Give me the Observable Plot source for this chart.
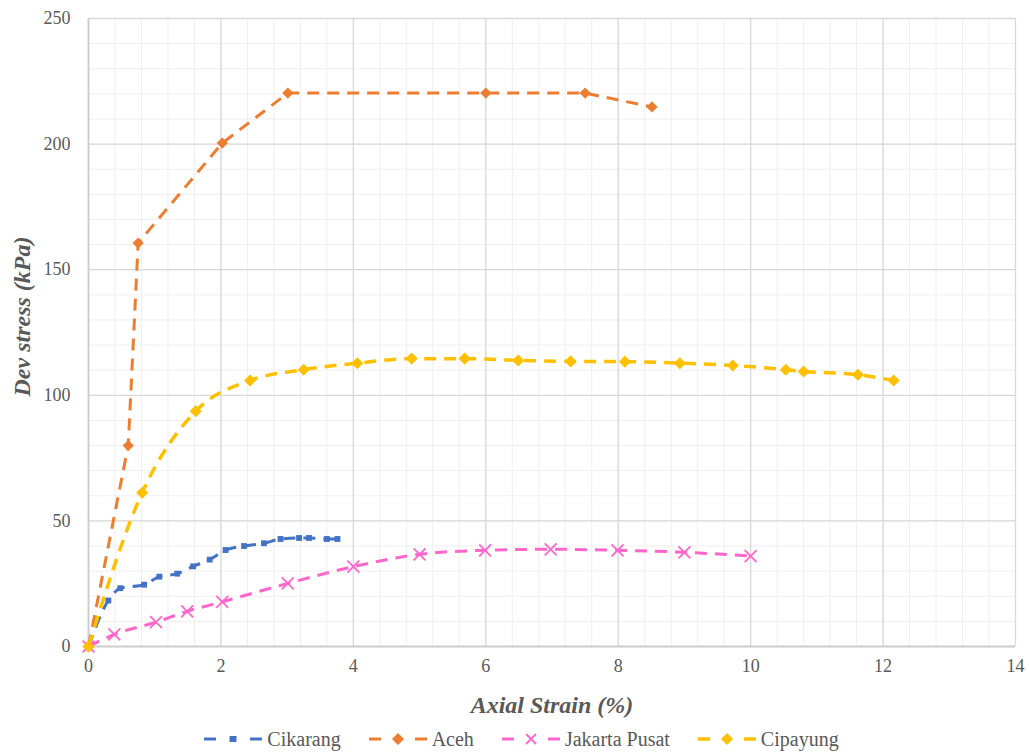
<!DOCTYPE html>
<html>
<head>
<meta charset="utf-8">
<script src="https://cdn.jsdelivr.net/npm/d3@7"></script>
<script src="https://cdn.jsdelivr.net/npm/@observablehq/plot@0.6"></script>
<style>
  html, body { margin: 0; padding: 0; background: #fff; }
  #chart { width: 1029px; }
  #chart svg, #chart svg text { font-family: "Liberation Serif", "DejaVu Serif", serif !important; }
  #legend {
    display: flex; justify-content: center; align-items: center;
    font-family: "Liberation Serif", "DejaVu Serif", serif;
    font-size: 20px; color: #595959; height: 30px; padding-left: 14px;
  }
  .item { display: flex; align-items: center; margin: 0 14px; }
  .item svg { margin-right: 5px; }
</style>
</head>
<body>
<div id="chart"></div>
<div id="legend"></div>
<script>
// ---- data ----
const seriesNames = ["Cikarang", "Aceh", "Jakarta Pusat", "Cipayung"];

const cikarangX = [0, 0.30, 0.48, 0.84, 1.07, 1.34, 1.58, 1.83, 2.07, 2.35, 2.65, 2.90, 3.18, 3.33, 3.60, 3.76];
const cikarangY = [0, 18.3, 23.2, 24.6, 27.8, 29.0, 31.9, 34.6, 38.4, 40.0, 41.1, 42.8, 43.2, 43.2, 42.8, 42.8];

const acehX = [0, 0.60, 0.75, 2.02, 3.01, 6.0, 7.5, 8.51];
const acehY = [0, 80.0, 160.6, 200.4, 220.3, 220.3, 220.3, 214.8];

const jakartaX = [0, 0.39, 1.02, 1.49, 2.02, 3.01, 4.0, 5.0, 5.99, 6.98, 7.99, 9.0, 10.0];
const jakartaY = [0, 4.8, 9.7, 14.0, 17.8, 25.1, 31.8, 36.7, 38.3, 38.7, 38.3, 37.5, 36.0];

const cipayungX = [0, 0.81, 1.62, 2.44, 3.25, 4.06, 4.88, 5.68, 6.49, 7.28, 8.10, 8.93, 9.73, 10.53, 10.80, 11.62, 12.16];
const cipayungY = [0, 61.2, 93.7, 105.9, 110.2, 112.8, 114.6, 114.6, 113.9, 113.5, 113.4, 112.8, 111.9, 110.2, 109.5, 108.2, 105.9];

const xTicks = [0, 2, 4, 6, 8, 10, 12, 14];
const yTicks = [0, 50, 100, 150, 200, 250];
const xMinorStep = 0.4;
const yMinorStep = 10;

const xTitle = "Axial Strain (%)";
const yTitle = "Dev stress (kPa)";

// ---- styles ----
const styles = {
  "Cikarang":      {color: "#4472C4", symbol: "square", r: 3.3, rotate: 0,  width: 3,   curve: "monotone-x"},
  "Aceh":          {color: "#ED7D31", symbol: "square", r: 4.5, rotate: 45, width: 3,   curve: "linear"},
  "Jakarta Pusat": {color: "#FF66CC", symbol: "times",  r: 5.5, rotate: 0,  width: 3,   curve: "monotone-x"},
  "Cipayung":      {color: "#FFC000", symbol: "square", r: 4.8, rotate: 45, width: 3.5, curve: "monotone-x"}
};

const toRows = (name, xs, ys) => xs.map((x, i) => ({series: name, x, y: ys[i]}));
const data = {
  "Cikarang": toRows("Cikarang", cikarangX, cikarangY),
  "Aceh": toRows("Aceh", acehX, acehY),
  "Jakarta Pusat": toRows("Jakarta Pusat", jakartaX, jakartaY),
  "Cipayung": toRows("Cipayung", cipayungX, cipayungY)
};

const xMinor = d3.range(0, Math.round(14 / xMinorStep) + 1).map(i => +(i * xMinorStep).toFixed(2));
const yMinor = d3.range(0, 26).map(i => i * yMinorStep);

const marks = [
  Plot.ruleX(xMinor, {stroke: "#efefef", strokeWidth: 1}),
  Plot.ruleY(yMinor, {stroke: "#efefef", strokeWidth: 1}),
  Plot.ruleX(xTicks, {stroke: "#d9d9d9", strokeWidth: 1.3}),
  Plot.ruleY(yTicks, {stroke: "#d9d9d9", strokeWidth: 1.3}),
  Plot.ruleX([0], {stroke: "#cccccc", strokeWidth: 1.8}),
  Plot.ruleY([0], {stroke: "#d0d0d0", strokeWidth: 1.8})
];

for (const name of seriesNames) {
  const s = styles[name];
  marks.push(Plot.line(data[name], {
    x: "x", y: "y", stroke: s.color, strokeWidth: s.width,
    strokeDasharray: "12,8", strokeLinecap: "butt", strokeLinejoin: "round", curve: s.curve
  }));
  if (s.symbol === "times") {
    marks.push(Plot.dot(data[name], {x: "x", y: "y", symbol: "times", r: s.r, stroke: s.color, strokeWidth: 1.8, fill: "none"}));
  } else {
    marks.push(Plot.dot(data[name], {x: "x", y: "y", symbol: s.symbol, r: s.r, rotate: s.rotate, fill: s.color, stroke: "none"}));
  }
}

marks.push(Plot.text([xTitle], {
  frameAnchor: "bottom", dy: 59, text: d => d, fontSize: 24, fontWeight: "bold",
  fontStyle: "italic", fill: "#595959", lineAnchor: "middle", textAnchor: "middle"
}));
marks.push(Plot.text([yTitle], {
  frameAnchor: "left", dx: -66, dy: -16, rotate: -90, text: d => d, fontSize: 24,
  fontWeight: "bold", fontStyle: "italic", fill: "#595959", lineAnchor: "middle", textAnchor: "middle"
}));

const chart = Plot.plot({
  width: 1029,
  height: 724,
  marginTop: 18,
  marginLeft: 88,
  marginRight: 14,
  marginBottom: 78,
  style: {fontSize: "18px", color: "#595959", background: "#fff", overflow: "visible"},
  x: {domain: [0, 14], ticks: xTicks, tickSize: 0, tickPadding: 13, label: null},
  y: {domain: [0, 250], ticks: yTicks, tickSize: 0, tickPadding: 18, label: null},
  marks
});
document.getElementById("chart").appendChild(chart);

// ---- legend ----
const legend = d3.select("#legend");
for (const name of seriesNames) {
  const s = styles[name];
  const item = legend.append("div").attr("class", "item");
  const svg = item.append("svg").attr("width", 58).attr("height", 20);
  svg.append("line").attr("x1", 0).attr("x2", 12).attr("y1", 10).attr("y2", 10)
    .attr("stroke", s.color).attr("stroke-width", s.width);
  svg.append("line").attr("x1", 46).attr("x2", 58).attr("y1", 10).attr("y2", 10)
    .attr("stroke", s.color).attr("stroke-width", s.width);
  if (s.symbol === "times") {
    svg.append("path").attr("d", "M24,5L34,15M34,5L24,15").attr("stroke", s.color).attr("stroke-width", 1.8);
  } else if (s.rotate === 45) {
    svg.append("path").attr("d", "M29,4L35,10L29,16L23,10Z").attr("fill", s.color);
  } else {
    svg.append("rect").attr("x", 25.5).attr("y", 7).attr("width", 7).attr("height", 6).attr("fill", s.color);
  }
  item.append("span").text(name);
}
</script>
</body>
</html>
